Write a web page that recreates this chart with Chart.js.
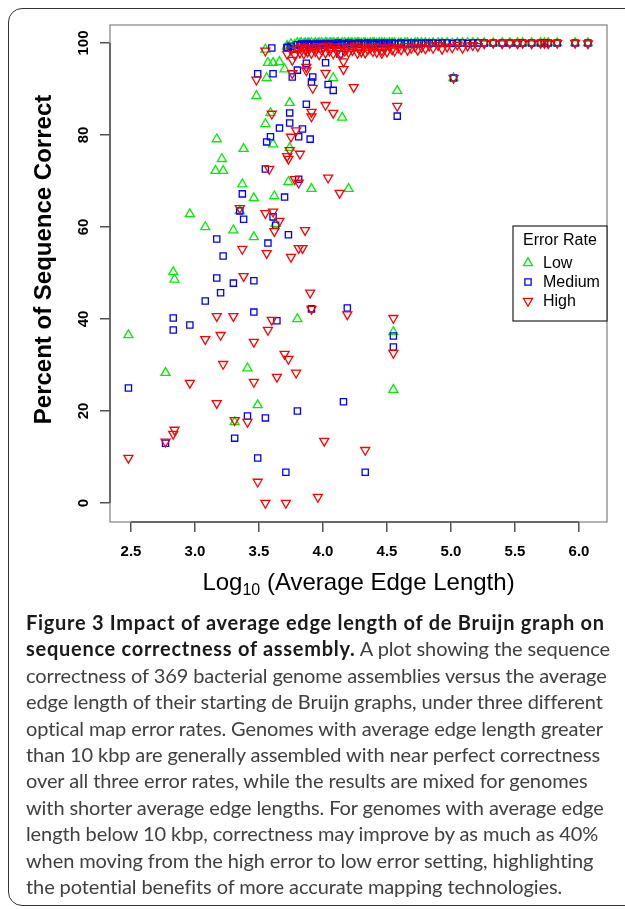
<!DOCTYPE html>
<html>
<head>
<meta charset="utf-8">
<script src="https://cdn.jsdelivr.net/npm/chart.js@4.4.1/dist/chart.umd.min.js"></script>
<style>
  body { margin: 0; background: #fff; width: 625px; height: 909px; overflow: hidden; position: relative; }
  #frame { position: absolute; left: 8px; top: 8px; width: 640px; height: 896px; border: 1.5px solid #333; border-radius: 14px; }
  #chart { position: absolute; left: 0; top: 0; }
  #xtitle { position: absolute; left: 110px; width: 497px; top: 568px; line-height: 28px; text-align: center;
            font: 24px "Liberation Sans", Arial, sans-serif; color: #000; white-space: nowrap; }
  #xtitle sub { font-size: 16px; vertical-align: baseline; position: relative; top: 5px; }
  #caption { position: absolute; left: 26px; top: 609px; font-family: Lato, sans-serif; font-size: 20px;
             line-height: 26.4px; color: #404040; white-space: nowrap; letter-spacing: -0.1px; }
  #caption b { color: #1a1a1a; letter-spacing: 0.72px; }
</style>
</head>
<body>
<div id="frame"></div>
<canvas id="chart" width="625" height="600"></canvas>
<div id="xtitle">Log<sub>10</sub> (Average Edge Length)</div>
<div id="caption">
  <div><b>Figure 3 Impact of average edge length of de Bruijn graph on</b></div>
  <div><b>sequence correctness of assembly.</b> A plot showing the sequence</div>
  <div>correctness of 369 bacterial genome assemblies versus the average</div>
  <div>edge length of their starting de Bruijn graphs, under three different</div>
  <div>optical map error rates. Genomes with average edge length greater</div>
  <div>than 10 kbp are generally assembled with near perfect correctness</div>
  <div>over all three error rates, while the results are mixed for genomes</div>
  <div>with shorter average edge lengths. For genomes with average edge</div>
  <div>length below 10 kbp, correctness may improve by as much as 40%</div>
  <div>when moving from the high error to low error setting, highlighting</div>
  <div>the potential benefits of more accurate mapping technologies.</div>
</div>
<script>
// tick labels
const xTicks = [2.5, 3.0, 3.5, 4.0, 4.5, 5.0, 5.5, 6.0];
const yTicks = [0, 20, 40, 60, 80, 100];
const seriesNames = ['Low', 'Medium', 'High'];
const yTitle = 'Percent of Sequence Correct';

// scattered genomes (log10 edge length, % correct)
const lowX = [3.55, 3.57, 3.61, 3.66, 3.70, 3.56, 3.48, 3.74, 3.59, 3.55,
              3.61, 3.74, 4.15, 4.08, 3.17, 3.38, 3.21, 3.16, 3.22, 3.37,
              3.46, 3.62, 3.73, 3.91, 4.20, 2.96, 3.08, 3.30, 3.46, 3.63,
              3.35, 2.83, 2.84, 2.48, 2.77, 3.80, 3.41, 3.49, 3.31, 4.55,
              4.55, 4.58, 5.02, 3.72];
const lowY = [98.6, 95.7, 95.7, 95.9, 94.3, 92.4, 88.5, 87.0, 84.8, 82.4,
              78.0, 77.2, 83.8, 92.4, 79.1, 77.0, 74.8, 72.2, 72.2, 69.3,
              66.3, 66.7, 69.8, 68.3, 68.3, 62.8, 60.0, 59.3, 57.8, 60.7,
              63.5, 50.2, 48.6, 36.5, 28.3, 40.0, 29.3, 21.3, 17.6, 24.6,
              37.2, 89.6, 92.4, 99.2];

const mediumX = [3.60, 3.72, 3.49, 3.61, 3.76, 3.80, 3.87, 3.91, 4.04, 4.08,
                 4.02, 4.13, 3.87, 3.74, 3.74, 3.66, 3.84, 3.81, 3.90, 3.59,
                 3.56, 3.55, 3.81, 3.37, 3.70, 3.35, 3.38, 3.61, 3.63, 3.17,
                 3.57, 3.73, 3.22, 3.17, 3.30, 3.46, 3.20, 3.08, 2.83, 2.83,
                 2.96, 3.46, 3.64, 3.91, 4.19, 2.48, 2.77, 3.41, 3.55, 3.31,
                 3.80, 3.49, 3.71, 4.16, 4.55, 4.55, 4.33, 4.58, 5.02, 3.92];
const mediumY = [98.9, 99.0, 93.3, 93.3, 92.6, 94.1, 95.6, 91.5, 91.0, 89.7,
                 95.7, 97.6, 86.7, 84.8, 82.6, 81.5, 81.3, 79.6, 79.1, 79.6,
                 78.5, 72.6, 70.4, 67.2, 66.5, 63.5, 61.7, 62.2, 60.4, 57.4,
                 56.5, 58.3, 53.7, 48.9, 47.8, 48.3, 45.7, 43.9, 40.2, 37.6,
                 38.7, 41.5, 39.6, 42.2, 42.4, 25.0, 13.0, 18.9, 18.5, 14.1,
                 20.0, 9.8, 6.7, 22.0, 36.3, 33.9, 6.7, 84.1, 92.4, 92.6];

const highX = [3.55, 3.48, 3.76, 3.87, 4.02, 4.16, 4.16, 4.24, 3.92, 4.02,
               4.08, 3.91, 3.91, 3.60, 3.79, 3.75, 3.74, 3.72, 3.73, 3.82,
               3.58, 3.78, 3.81, 4.04, 4.13, 3.35, 3.55, 3.61, 3.66, 3.62,
               3.86, 3.37, 3.56, 3.75, 3.81, 3.84, 3.38, 3.90, 3.91, 4.19,
               3.17, 3.30, 3.08, 3.20, 3.46, 3.60, 3.57, 3.70, 3.73, 3.79,
               3.64, 3.46, 3.22, 2.96, 3.17, 3.31, 3.41, 2.84, 2.83, 2.77,
               2.48, 4.01, 3.49, 3.55, 3.71, 3.96, 4.55, 4.55, 4.33, 4.58,
               4.46, 5.02, 3.76, 3.87];
const highY = [98.3, 92.0, 93.4, 94.0, 93.5, 96.0, 94.3, 90.4, 90.2, 86.5,
               84.8, 85.0, 84.0, 84.6, 81.0, 79.6, 76.7, 75.4, 74.8, 75.9,
               72.6, 70.4, 69.6, 70.7, 67.4, 64.1, 63.0, 63.3, 61.3, 59.1,
               59.3, 55.2, 54.3, 53.5, 55.4, 55.4, 49.3, 45.7, 42.2, 41.0,
               40.6, 40.6, 35.6, 36.5, 35.0, 39.8, 37.6, 32.4, 31.3, 28.3,
               27.4, 26.3, 30.2, 26.1, 21.7, 18.0, 17.6, 15.9, 15.0, 13.3,
               9.8, 13.5, 4.6, 0.0, 0.0, 1.3, 40.2, 32.6, 11.5, 86.3,
               97.8, 92.4, 96.3, 94.8];

// genomes packed into the band near 100%
const bandX = [3.72, 3.75, 3.78, 3.80, 3.82, 3.83, 3.85, 3.86, 3.88, 3.89,
               3.91, 3.93, 3.94, 3.96, 3.97, 3.99, 4.00, 4.02, 4.03, 4.05,
               4.06, 4.08, 4.09, 4.11, 4.12, 4.14, 4.15, 4.17, 4.19, 4.20,
               4.22, 4.23, 4.25, 4.27, 4.28, 4.30, 4.32, 4.33, 4.35, 4.37,
               4.39, 4.40, 4.42, 4.44, 4.46, 4.48, 4.50, 4.52, 4.54, 4.56,
               4.59, 4.61, 4.64, 4.66, 4.69, 4.72, 4.74, 4.77, 4.80, 4.83,
               4.86, 4.90, 4.93, 4.97, 5.01, 5.05, 5.09, 5.13, 5.17, 5.21,
               5.26, 5.33, 5.40, 5.46, 5.52, 5.56, 5.63, 5.70, 5.73, 5.76,
               5.83, 5.97, 6.07];
const bandLow = [99.4, 99.8, 99.6, 100, 99.9, 100, 99.7, 100, 99.9, 100,
                 100, 99.8, 100, 99.9, 100, 100, 99.8, 100, 100, 99.9,
                 100, 100, 99.9, 100, 100, 99.8, 100, 100, 99.9, 100,
                 100, 99.9, 100, 100, 100, 99.9, 100, 100, 99.9, 100,
                 100, 100, 99.9, 100, 100, 100, 99.9, 100, 100, 100,
                 99.9, 100, 100, 100, 99.9, 100, 100, 100, 100, 99.9,
                 100, 100, 100, 100, 99.9, 100, 100, 100, 100, 100,
                 100, 100, 100, 100, 100, 100, 100, 100, 100, 100,
                 100, 100, 100];
const bandMedium = [99.0, 99.3, 98.8, 99.6, 99.5, 99.8, 99.2, 99.7, 99.9, 99.4,
                    99.6, 99.8, 99.3, 99.9, 99.7, 99.5, 99.8, 99.9, 99.6, 99.8,
                    99.7, 99.9, 99.5, 99.8, 100, 99.6, 99.9, 99.7, 99.8, 100,
                    99.8, 99.6, 99.9, 99.8, 100, 99.7, 99.9, 99.8, 100, 99.9,
                    99.7, 99.9, 100, 99.8, 99.9, 100, 99.8, 99.9, 100, 99.9,
                    99.8, 100, 99.9, 99.9, 100, 99.8, 100, 99.9, 100, 99.9,
                    100, 99.9, 100, 100, 99.9, 100, 100, 99.9, 100, 100,
                    100, 100, 100, 100, 100, 100, 100, 100, 100, 100,
                    100, 100, 100];
const bandHigh = [97.6, 98.5, 97.4, 98.8, 97.9, 99.2, 97.7, 98.6, 98.1, 99.0,
                  97.8, 98.9, 98.2, 99.3, 97.5, 98.4, 99.1, 97.9, 99.4, 98.3,
                  98.7, 97.7, 99.2, 98.2, 98.6, 97.6, 99.3, 98.3, 98.9, 98.0,
                  99.0, 98.4, 99.4, 97.8, 98.7, 98.1, 99.2, 97.9, 98.6, 98.9,
                  98.2, 99.3, 98.0, 99.0, 98.4, 98.8, 98.1, 99.2, 98.6, 98.3,
                  99.0, 98.6, 99.3, 98.5, 98.9, 99.2, 98.5, 99.1, 98.8, 99.4,
                  98.9, 99.5, 98.7, 99.2, 99.0, 99.6, 98.9, 99.4, 99.5, 99.3,
                  99.9, 100, 99.9, 100, 99.9, 100, 99.9, 100, 100, 99.9,
                  100, 100, 99.9];

const toPoints = (xs, ys) => xs.map((x, i) => ({ x: x, y: ys[i] }));

const axisFont = { family: "'Liberation Sans', Arial, sans-serif", size: 15, weight: 'bold' };

const styles = {
    Low:    { color: '#00ee00', pointStyle: 'triangle', rotation: 0,   radius: 5.2 },
    Medium: { color: '#0000ff', pointStyle: 'rect',     rotation: 0,   radius: 4.4 },
    High:   { color: '#ff0000', pointStyle: 'triangle', rotation: 180, radius: 5.2 }
};

const makeDataset = (name, pts, order) => ({
    label: name,
    data: pts,
    borderColor: styles[name].color,
    backgroundColor: 'rgba(0,0,0,0)',
    pointStyle: styles[name].pointStyle,
    pointRotation: styles[name].rotation,
    pointRadius: styles[name].radius,
    pointBorderWidth: 1.3,
    borderWidth: 1.3,
    order: order
});

// box, axis lines, rotated y labels, y title and the legend in the R style
const rPlotDecor = {
    id: 'rPlotDecor',
    afterDraw(chart) {
        const { ctx, chartArea: a, scales: { x, y } } = chart;
        ctx.save();
        ctx.strokeStyle = '#8a8a8a';
        ctx.lineWidth = 1.3;
        ctx.strokeRect(a.left, a.top, a.right - a.left, a.bottom - a.top);

        ctx.strokeStyle = '#505050';
        ctx.lineWidth = 1.5;
        ctx.beginPath();
        ctx.moveTo(a.left, y.getPixelForValue(yTicks[0]));
        ctx.lineTo(a.left, y.getPixelForValue(yTicks[yTicks.length - 1]));
        ctx.moveTo(x.getPixelForValue(xTicks[0]), a.bottom);
        ctx.lineTo(x.getPixelForValue(xTicks[xTicks.length - 1]), a.bottom);
        ctx.stroke();

        ctx.fillStyle = '#000';
        ctx.font = 'bold 15px "Liberation Sans", Arial, sans-serif';
        ctx.textAlign = 'center';
        ctx.textBaseline = 'middle';
        yTicks.forEach(v => {
            ctx.save();
            ctx.translate(a.left - 26, y.getPixelForValue(v));
            ctx.rotate(-Math.PI / 2);
            ctx.fillText(String(v), 0, 0);
            ctx.restore();
        });

        ctx.save();
        ctx.font = 'bold 24px "Liberation Sans", Arial, sans-serif';
        ctx.translate(44, (a.top + a.bottom) / 2 - 14);
        ctx.rotate(-Math.PI / 2);
        ctx.fillText(yTitle, 0, 0);
        ctx.restore();

        // legend
        const w = 94, h = 95;
        const lx = a.right - w, ly = (a.top + a.bottom) / 2 - h / 2;
        ctx.fillStyle = '#fff';
        ctx.fillRect(lx, ly, w, h);
        ctx.strokeStyle = '#222';
        ctx.lineWidth = 1.2;
        ctx.strokeRect(lx, ly, w, h);
        ctx.fillStyle = '#000';
        ctx.font = '16px "Liberation Sans", Arial, sans-serif';
        ctx.textAlign = 'left';
        ctx.fillText('Error Rate', lx + 10, ly + 15);
        seriesNames.forEach((name, i) => {
            const s = styles[name];
            const cy = ly + 37 + i * 19;
            ctx.strokeStyle = s.color;
            ctx.fillStyle = 'rgba(0,0,0,0)';
            ctx.lineWidth = 1.3;
            Chart.helpers.drawPoint(ctx, { pointStyle: s.pointStyle, rotation: s.rotation, radius: s.radius, borderWidth: 1.3 }, lx + 15, cy);
            ctx.fillStyle = '#000';
            ctx.fillText(name, lx + 30, cy + 1);
        });
        ctx.restore();
    }
};

new Chart(document.getElementById('chart').getContext('2d'), {
    type: 'scatter',
    data: {
        datasets: [
            makeDataset('High', toPoints(highX, highY).concat(toPoints(bandX, bandHigh)), 0),
            makeDataset('Medium', toPoints(mediumX, mediumY).concat(toPoints(bandX, bandMedium)), 1),
            makeDataset('Low', toPoints(lowX, lowY).concat(toPoints(bandX, bandLow)), 2)
        ]
    },
    options: {
        responsive: false,
        animation: false,
        layout: { padding: { left: 0, right: 18, top: 25, bottom: 0 }, autoPadding: false },
        plugins: { legend: { display: false }, tooltip: { enabled: false } },
        scales: {
            x: {
                type: 'linear',
                min: 2.336,
                max: 6.219,
                afterBuildTicks: s => { s.ticks = xTicks.map(v => ({ value: v })); },
                afterFit: s => { s.height = 78; },
                border: { display: false },
                grid: { drawOnChartArea: false, drawTicks: true, tickLength: 10, color: '#505050', lineWidth: 1.5 },
                ticks: { font: axisFont, color: '#000', padding: 11, maxRotation: 0, autoSkip: false,
                         callback: v => Number(v).toFixed(1) }
            },
            y: {
                min: -4.13,
                max: 103.91,
                afterBuildTicks: s => { s.ticks = yTicks.map(v => ({ value: v })); },
                afterFit: s => { s.width = 110; },
                border: { display: false },
                grid: { drawOnChartArea: false, drawTicks: true, tickLength: 10, color: '#505050', lineWidth: 1.5 },
                ticks: { display: false }
            }
        }
    },
    plugins: [rPlotDecor]
});
</script>
</body>
</html>
